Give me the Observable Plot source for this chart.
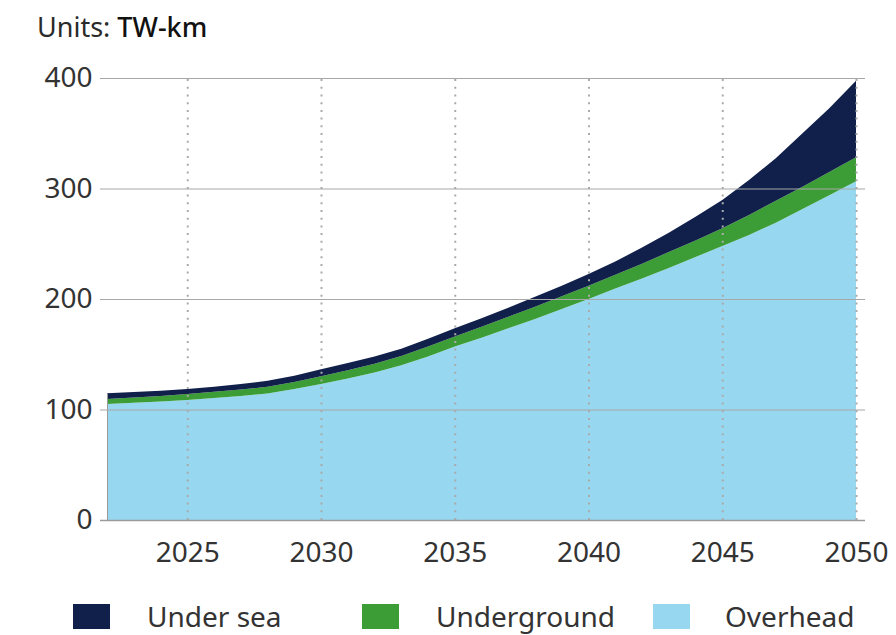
<!DOCTYPE html>
<html>
<head>
<meta charset="utf-8">
<script src="https://cdn.jsdelivr.net/npm/d3@7"></script>
<script src="https://cdn.jsdelivr.net/npm/@observablehq/plot@0.6"></script>
<style>
  html, body { margin: 0; padding: 0; background: #fff; }
  body { width: 896px; height: 635px; position: relative; overflow: hidden; font-family: "Noto Sans", sans-serif; }
  #title { position: absolute; left: 37px; top: 13px; font-size: 27px; line-height: 27px; color: #2a2a2a; white-space: nowrap; }
  #title b { font-weight: 500; color: #111; }
  #chart { position: absolute; left: 0; top: 0; }
  .lg { position: absolute; top: 604px; height: 25px; }
  .lt { position: absolute; top: 602px; font-size: 28px; line-height: 28px; color: #333; white-space: nowrap; }
</style>
</head>
<body>
<div id="title">Units: <b>TW-km</b></div>
<div id="chart"></div>
<div id="legend"></div>
<script>
const years = [2022,2023,2024,2025,2026,2027,2028,2029,2030,2031,2032,2033,2034,2035,2036,2037,2038,2039,2040,2041,2042,2043,2044,2045,2046,2047,2048,2049,2050];
const overhead = [105,106,107.2,108.6,110.3,112.2,114.5,118.5,123,128,133.5,140,148,157,165,173.5,182,191,200,209.5,218.5,228,238,248,258,269,281.5,294,306.5];
const underground = [4.5,4.8,5.1,5.4,5.7,5.8,6.0,6.5,7.0,7.5,8.0,8.5,9.0,9.0,10,10.5,11,11.5,12,12.5,13.5,14.5,15,16,18,20,20,21,21.7];
const undersea = [5.1,5.0,4.7,4.5,4.5,5.0,5.5,5.5,6.5,6.5,6.5,6.5,7.0,7.5,7.5,8,9,9.5,10.6,12,14.5,17.5,21.5,25.6,31.7,38.3,48.5,57.6,69.4];

const seriesNames = ["Overhead", "Underground", "Under sea"];
const seriesColors = ["#97d7ef", "#3c9c35", "#11204a"];
const legendOrder = ["Under sea", "Underground", "Overhead"];
const xTicks = [2025, 2030, 2035, 2040, 2045, 2050];
const yTicks = [0, 100, 200, 300, 400];

const valuesBySeries = {"Overhead": overhead, "Underground": underground, "Under sea": undersea};
const data = [];
for (const s of seriesNames) {
  years.forEach((y, i) => data.push({year: y, series: s, value: valuesBySeries[s][i]}));
}
const totals2022 = [overhead[0] + underground[0] + undersea[0]];

const chart = Plot.plot({
  width: 896,
  height: 580,
  marginTop: 78,
  marginBottom: 60,
  marginLeft: 100,
  marginRight: 31,
  style: {fontFamily: "'Noto Sans', sans-serif", fontSize: "28px", color: "#333", background: "transparent"},
  x: {domain: [2022, 2050], insetLeft: 7, insetRight: 9},
  y: {domain: [0, 400]},
  color: {domain: seriesNames, range: seriesColors},
  marks: [
    Plot.areaY(data, {x: "year", y: "value", fill: "series", z: "series", order: seriesNames}),
    Plot.ruleX([years[0]], {y1: 0, y2: totals2022[0], stroke: "#9a9a9a", strokeWidth: 1}),
    Plot.ruleY([100, 200, 300, 400], {stroke: "#a8a8a8", strokeWidth: 1.2}),
    Plot.ruleX(xTicks, {y1: 0, y2: 400, stroke: "#aaaaaa", strokeWidth: 2, strokeDasharray: "2,5.7"}),
    Plot.ruleY([0], {stroke: "#9a9a9a", strokeWidth: 1.5}),
    Plot.axisX({ticks: xTicks, tickSize: 0, tickPadding: 22, tickFormat: d => String(d), label: null, fill: "#333"}),
    Plot.axisY({ticks: yTicks, tickSize: 0, tickPadding: 8, label: null, fill: "#333"})
  ]
});
document.getElementById("chart").appendChild(chart);

const legend = document.getElementById("legend");
const swatchX = [73, 362, 653];
const textX = [147, 436, 725];
legendOrder.forEach((name, i) => {
  const sw = document.createElement("div");
  sw.className = "lg";
  sw.style.left = swatchX[i] + "px";
  sw.style.width = "37px";
  sw.style.background = seriesColors[seriesNames.indexOf(name)];
  legend.appendChild(sw);
  const t = document.createElement("div");
  t.className = "lt";
  t.style.left = textX[i] + "px";
  t.textContent = name;
  legend.appendChild(t);
});
</script>
</body>
</html>
